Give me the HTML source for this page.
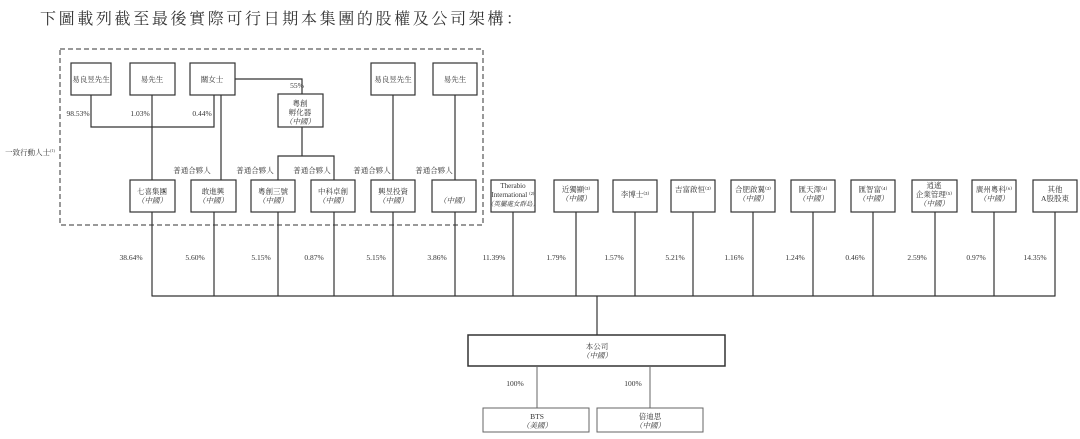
<!DOCTYPE html>
<html><head><meta charset="utf-8"><style>
html,body{margin:0;padding:0;background:#fff;width:1080px;height:439px;overflow:hidden}
svg text{font-family:"Liberation Serif","Noto Serif CJK SC","Noto Sans CJK TC",serif;fill:#333}
</style></head><body>
<svg width="1080" height="439" viewBox="0 0 1080 439" xmlns="http://www.w3.org/2000/svg">
<text x="40" y="24" font-size="16" textLength="482" lengthAdjust="spacing" fill="#444">下圖載列截至最後實際可行日期本集團的股權及公司架構：</text>
<rect x="60" y="49" width="423" height="176" fill="none" stroke="#333" stroke-width="1" stroke-dasharray="5,3"/>
<g fill="none" stroke="#333" stroke-width="1.2">
<rect x="71" y="63" width="40" height="32"/>
<rect x="130" y="63" width="45" height="32"/>
<rect x="190" y="63" width="45" height="32"/>
<rect x="371" y="63" width="44" height="32"/>
<rect x="433" y="63" width="44" height="32"/>
<rect x="278" y="94" width="45" height="33"/>
<polyline points="235,79 302,79 302,94"/>
<polyline points="91,95 91,127 214,127 214,95"/>
<line x1="152" y1="95" x2="152" y2="180"/>
<line x1="221" y1="95" x2="221" y2="180"/>
<polyline points="302,127 302,156"/>
<polyline points="278,180 278,156 334,156 334,180"/>
<line x1="393" y1="95" x2="393" y2="180"/>
<line x1="455" y1="95" x2="455" y2="180"/>
<rect x="130" y="180" width="45" height="32"/>
<rect x="191" y="180" width="45" height="32"/>
<rect x="251" y="180" width="44" height="32"/>
<rect x="311" y="180" width="44" height="32"/>
<rect x="371" y="180" width="44" height="32"/>
<rect x="432" y="180" width="44" height="32"/>
<rect x="491" y="180" width="44" height="32"/>
<rect x="554" y="180" width="44" height="32"/>
<rect x="613" y="180" width="44" height="32"/>
<rect x="671" y="180" width="44" height="32"/>
<rect x="731" y="180" width="44" height="32"/>
<rect x="791" y="180" width="44" height="32"/>
<rect x="851" y="180" width="44" height="32"/>
<rect x="912" y="180" width="45" height="32"/>
<rect x="972" y="180" width="44" height="32"/>
<rect x="1033" y="180" width="44" height="32"/>
<path d="M152,212V296M214,212V296M278,212V296M334,212V296M393,212V296M455,212V296M513,212V296M576,212V296M635,212V296M693,212V296M753,212V296M813,212V296M873,212V296M935,212V296M994,212V296M1055,212V296"/>
<line x1="151.5" y1="296" x2="1055.5" y2="296"/>
<line x1="597" y1="296" x2="597" y2="335"/>
<rect x="468" y="335" width="257" height="31" stroke-width="1.5"/>
</g>
<g fill="none" stroke="#666" stroke-width="1">
<line x1="537" y1="366" x2="537" y2="408"/>
<line x1="650" y1="366" x2="650" y2="408"/>
<rect x="483" y="408" width="106" height="24"/>
<rect x="597" y="408" width="106" height="24"/>
</g>
<g font-size="7.5" text-anchor="middle">
<text x="91" y="82">易良昱先生</text>
<text x="152" y="82">易先生</text>
<text x="212" y="82">關女士</text>
<text x="393" y="82">易良昱先生</text>
<text x="455" y="82">易先生</text>
<text x="297" y="88">55%</text>
<text x="300" y="106">粵創</text>
<text x="300" y="115">孵化器</text>
<text x="300" y="124" font-style="italic">（中國）</text>
<text x="78" y="116">98.53%</text>
<text x="140" y="116">1.03%</text>
<text x="202" y="116">0.44%</text>
<text x="192" y="173">普通合夥人</text>
<text x="255" y="173">普通合夥人</text>
<text x="312" y="173">普通合夥人</text>
<text x="372" y="173">普通合夥人</text>
<text x="434" y="173">普通合夥人</text>
<text x="30" y="155">一致行動人士<tspan font-size="4" dy="-3">(1)</tspan></text>
<g>
<text x="152" y="194">七喜集團</text><text x="152" y="203" font-style="italic">（中國）</text>
<text x="213" y="194">敢進興</text><text x="213" y="203" font-style="italic">（中國）</text>
<text x="273" y="194">粵創三號</text><text x="273" y="203" font-style="italic">（中國）</text>
<text x="333" y="194">中科卓創</text><text x="333" y="203" font-style="italic">（中國）</text>
<text x="393" y="194">興昱投資</text><text x="393" y="203" font-style="italic">（中國）</text>
<text x="454" y="203" font-style="italic">（中國）</text>
<text x="513" y="188" font-size="7">Therabio</text><text x="513" y="197" font-size="7">International ⁽²⁾</text><text x="513" y="206" font-size="6.5" font-style="italic">（英屬處女群島）</text>
<text x="576" y="192">近獨顯⁽³⁾</text><text x="576" y="201" font-style="italic">（中國）</text>
<text x="635" y="197">李博士⁽³⁾</text>
<text x="693" y="192">吉富啟恒⁽³⁾</text>
<text x="753" y="192">合肥啟翼⁽³⁾</text><text x="753" y="201" font-style="italic">（中國）</text>
<text x="813" y="192">匯天澤⁽⁴⁾</text><text x="813" y="201" font-style="italic">（中國）</text>
<text x="873" y="192">匯智富⁽⁴⁾</text><text x="873" y="201" font-style="italic">（中國）</text>
<text x="934" y="188">逍遙</text><text x="934" y="197">企業管理⁽⁵⁾</text><text x="934" y="206" font-style="italic">（中國）</text>
<text x="994" y="192">廣州粵科⁽⁶⁾</text><text x="994" y="201" font-style="italic">（中國）</text>
<text x="1055" y="192">其他</text><text x="1055" y="201">A股股東</text>
</g>
<text x="131" y="260">38.64%</text>
<text x="195" y="260">5.60%</text>
<text x="261" y="260">5.15%</text>
<text x="314" y="260">0.87%</text>
<text x="376" y="260">5.15%</text>
<text x="437" y="260">3.86%</text>
<text x="494" y="260">11.39%</text>
<text x="556" y="260">1.79%</text>
<text x="614" y="260">1.57%</text>
<text x="675" y="260">5.21%</text>
<text x="734" y="260">1.16%</text>
<text x="795" y="260">1.24%</text>
<text x="855" y="260">0.46%</text>
<text x="917" y="260">2.59%</text>
<text x="976" y="260">0.97%</text>
<text x="1035" y="260">14.35%</text>
<text x="597" y="349">本公司</text>
<text x="597" y="358" font-style="italic">（中國）</text>
<text x="515" y="386">100%</text>
<text x="633" y="386">100%</text>
<text x="537" y="419">BTS</text>
<text x="537" y="428" font-style="italic">（美國）</text>
<text x="650" y="419">倍迪思</text>
<text x="650" y="428" font-style="italic">（中國）</text>
</g>
</svg>
</body></html>
